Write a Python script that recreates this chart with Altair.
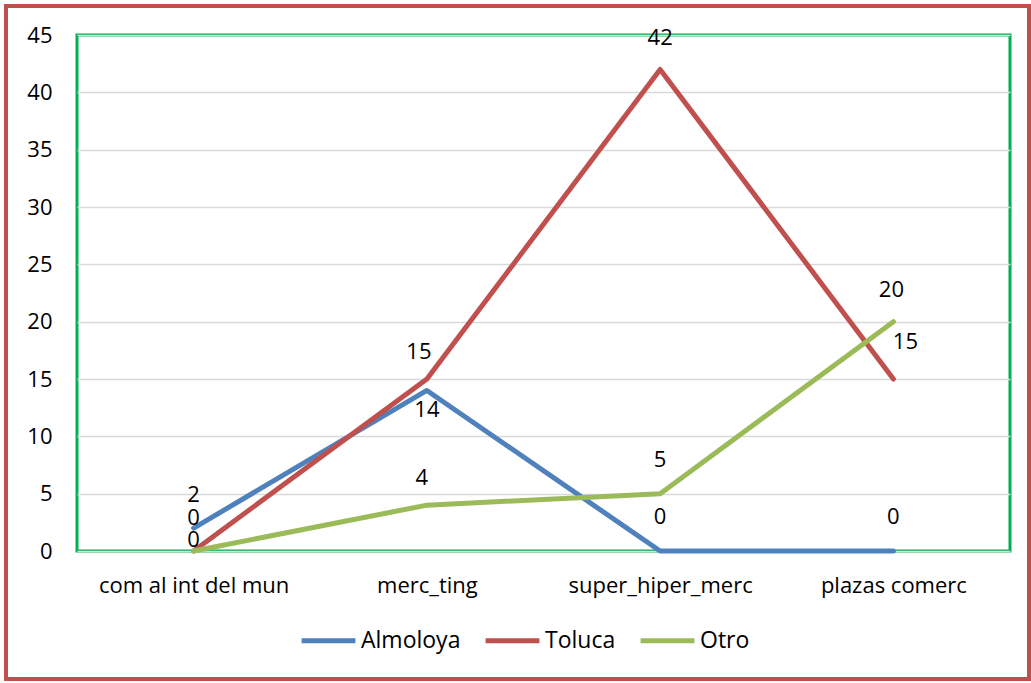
import altair as alt
import pandas as pd

# Categories and series values
categories = ["com al int del mun", "merc_ting", "super_hiper_merc", "plazas comerc"]
series_names = ["Almoloya", "Toluca", "Otro"]
almoloya = [2, 14, 0, 0]
toluca = [0, 15, 42, 15]
otro = [0, 4, 5, 20]
series_colors = ["#4F81BD", "#C0504D", "#9BBB59"]

# Label offsets (pixels) relative to each point
label_dy = {
    "Almoloya": [-33, 20, -34, -34],
    "Toluca": [-33, -27, -31, -37],
    "Otro": [-11, -27, -34, -32],
}
label_dx = {
    "Almoloya": [0, 0, 0, 0],
    "Toluca": [0, -8, 0, 12],
    "Otro": [0, -5, 0, -2],
}

rows = []
for name, vals in zip(series_names, [almoloya, toluca, otro]):
    for i, (cat, v) in enumerate(zip(categories, vals)):
        rows.append({"cat": cat, "serie": name, "valor": v, "ord": i})
df = pd.DataFrame(rows)

FONT = "Open Sans"
FS = 22
W, H = 933, 516

x_scale = alt.Scale(type="point", padding=0.5)
y_scale = alt.Scale(domain=[0, 45], nice=False)

x_enc = alt.X("cat:N", sort=categories, title=None, scale=x_scale,
              axis=alt.Axis(labelFontSize=FS, labelFont=FONT, labelColor="#000",
                            labelPadding=24, labelLimit=0, ticks=False, domain=False,
                            labelAngle=0, grid=False))
y_enc = alt.Y("valor:Q", title=None, scale=y_scale,
              axis=alt.Axis(values=list(range(0, 50, 5)), labelFontSize=FS,
                            labelFont=FONT, labelColor="#000", labelPadding=25,
                            ticks=False, domain=False, gridColor="#d9d9d9",
                            gridWidth=1.3))

lines = alt.Chart(df).mark_line(strokeWidth=5, strokeCap="round",
                                strokeJoin="round").encode(
    x=x_enc,
    y=y_enc,
    color=alt.Color("serie:N",
                    scale=alt.Scale(domain=series_names, range=series_colors),
                    legend=alt.Legend(title=None, orient="none", direction="horizontal",
                                      legendX=222, legendY=576,
                                      symbolType="stroke", symbolSize=2900,
                                      symbolStrokeWidth=5, labelFontSize=23,
                                      labelFont=FONT, labelColor="#000",
                                      columnPadding=14, labelOffset=3)),
    order="ord:Q",
    detail="serie:N",
)

labels = []
for name in series_names:
    for i in range(len(categories)):
        labels.append(
            alt.Chart(df[(df.serie == name) & (df.ord == i)]).mark_text(
                fontSize=FS, font=FONT, color="#000", baseline="middle",
                dy=int(label_dy[name][i]), dx=int(label_dx[name][i])
            ).encode(x=alt.X("cat:N", sort=categories, scale=x_scale),
                     y=alt.Y("valor:Q", scale=y_scale),
                     text="valor:Q")
        )

# Outer frame around the whole figure
frame = alt.Chart(pd.DataFrame({"a": [0]})).mark_rect(
    fill=None, stroke="#C0504D", strokeWidth=4
).encode(x=alt.value(-71), x2=alt.value(W + 19), y=alt.value(-29), y2=alt.value(H + 128))

chart = alt.layer(lines, *labels, frame).properties(
    width=W, height=H,
    autosize=alt.AutoSizeParams(type="none"),
    padding={"left": 77, "top": 35, "right": 21, "bottom": 132},
    background="white",
).configure_view(stroke="#00B050", strokeWidth=3)

chart.save("out.html", embed_options={"renderer": "svg", "actions": False})
